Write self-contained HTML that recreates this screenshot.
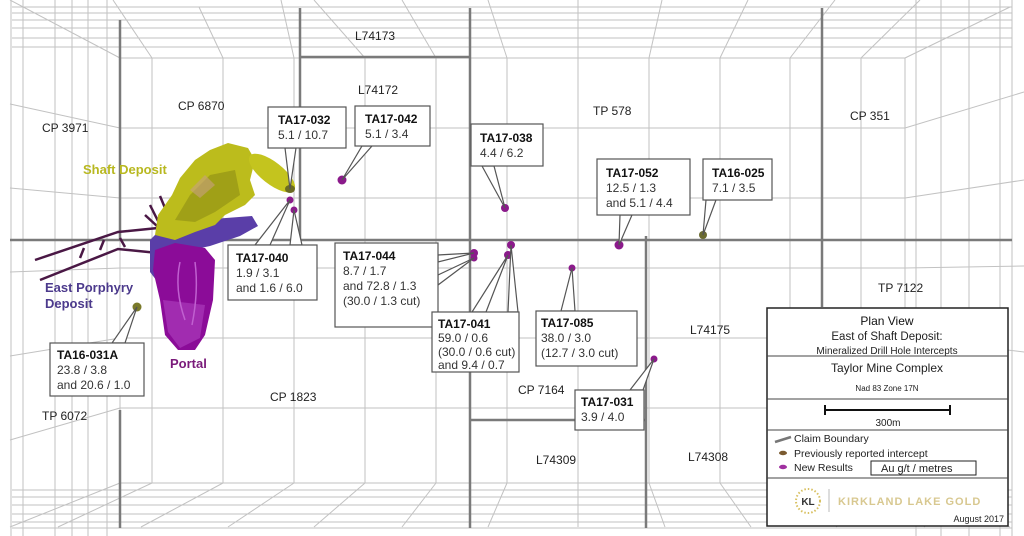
<!DOCTYPE html>
<html><head><meta charset="utf-8"><style>
html,body{margin:0;padding:0;background:#fff;}
svg{display:block;font-family:"Liberation Sans",sans-serif;}
.g{stroke:#c2c2c2;stroke-width:1;fill:none}
.c{stroke:#7a7a7a;stroke-width:2.5;fill:none}
.lb{font-size:12px;fill:#222}
.bx{fill:#fff;stroke:#555;stroke-width:1.2}
.t{font-size:12px;font-weight:bold;fill:#111}
.v{font-size:12px;fill:#333}
</style></head><body>
<svg width="1024" height="536" viewBox="0 0 1024 536" xmlns="http://www.w3.org/2000/svg">
<rect width="1024" height="536" fill="#fff"/>
<g class="g">
<rect x="120" y="58" width="785" height="425"/>
<path d="M152 58V483M223 58V483M294 58V483M365 58V483M436 58V483M507 58V483M578 58V483M649 58V483M720 58V483M790 58V483M861 58V483"/>
<path d="M120 128H905M120 198H905M120 268H905M120 338H905M120 408H905"/>
<path d="M152 58L113 0M223 58L199 7M294 58L281 0M365 58L314 0M436 58L402 0M507 58L488 0M578 58L578 0M649 58L662 0M720 58L748 0M790 58L835 0M861 58L920 0M120 58L10 0M905 58L1010 7"/>
<path d="M12 47H1012M12 38H1012M12 28H1012M12 20H1012M12 13H1012M12 7H1012"/>
<path d="M152 483L58 527M223 483L141 527M294 483L228 527M365 483L314 527M436 483L402 527M507 483L488 527M578 483L578 527M649 483L665 527M720 483L751 527M790 483L837 527M861 483L925 527M120 483L10 527M905 483L1010 527"/>
<path d="M12 490H1012M12 497H1012M12 505H1012M12 514H1012M12 522H1012M12 528H1012"/>
<path d="M11 0V536M23 0V536M55 0V536M72 0V536M88 0V536M107 0V536"/>
<path d="M120 128L10 104M120 198L10 188M120 338L10 356M120 408L10 440M120 268L10 272"/>
<path d="M916 0V536M941 0V536M969 0V536M1000 0V536M1012 0V536"/>
<path d="M905 128L1024 92M905 198L1024 180M905 268L1024 266M905 338L1024 352"/>
</g>
<g class="c">
<path d="M120 20V240M120 410V528"/>
<path d="M10 240H1012"/>
<path d="M300 8V240M300 57H470M470 8V528M470 420H646M646 236V528"/>
<path d="M822 8V307"/>
</g>
<g stroke="#4a1845" stroke-width="2.5" fill="none">
<path d="M35 260L118 232L158 228"/>
<path d="M40 280L118 249L158 253"/>
<path d="M145 215L170 238M150 205L160 225M160 196L175 232M80 258L84 248M100 250L104 240M125 247L120 238"/>
</g>
<polygon points="150,240 160,230 200,220 252,216 258,226 240,236 210,246 168,255 160,285 150,272" fill="#5a3ea8"/>
<polygon points="155,250 175,243 205,248 215,260 213,300 205,335 195,350 178,350 165,335 160,300 153,270" fill="#8b0c98"/>
<polygon points="163,300 205,305 200,338 180,348 168,332" fill="#a12cb0"/>
<path d="M180 262C176 280 178 300 185 320M195 262C198 285 196 305 192 325" stroke="#c060d0" stroke-width="1.5" fill="none"/>
<polygon points="155,235 158,215 172,195 180,178 195,160 210,150 228,143 248,148 255,160 250,180 255,195 245,205 225,215 215,225 195,232 175,240" fill="#bcbc1c"/>
<polygon points="175,220 190,195 210,175 235,170 240,195 215,212 195,222" fill="#8e8e14" opacity="0.6"/>
<polygon points="190,190 205,175 215,185 200,198" fill="#c8a080" opacity="0.6"/>
<ellipse cx="272" cy="173" rx="28" ry="11" transform="rotate(38 272 173)" fill="#c4c41e"/>
<ellipse cx="290" cy="189" rx="5" ry="4" fill="#6b6b22"/>
<g fill="#8b1a8b">
<circle cx="290" cy="200" r="3.5"/><circle cx="294" cy="210" r="3.5"/>
<circle cx="342" cy="180" r="4.5"/><circle cx="505" cy="208" r="4"/>
<circle cx="619" cy="245" r="4.5"/><circle cx="474" cy="253" r="4"/><circle cx="474" cy="258" r="3.5"/>
<circle cx="511" cy="245" r="4"/><circle cx="508" cy="255" r="4"/><circle cx="572" cy="268" r="3.5"/>
<circle cx="654" cy="359" r="3.5"/>
</g>
<circle cx="703" cy="235" r="4" fill="#6b6b30"/>
<circle cx="137" cy="307" r="4.5" fill="#7a7a2a"/>
<g class="lb">
<text x="355" y="40">L74173</text><text x="358" y="94">L74172</text>
<text x="178" y="110">CP 6870</text><text x="42" y="132">CP 3971</text>
<text x="593" y="115">TP 578</text><text x="850" y="120">CP 351</text>
<text x="878" y="292">TP 7122</text><text x="690" y="334">L74175</text>
<text x="518" y="394">CP 7164</text><text x="270" y="401">CP 1823</text>
<text x="42" y="420">TP 6072</text><text x="536" y="464">L74309</text>
<text x="688" y="461">L74308</text>
</g>
<text x="83" y="174" font-size="13" font-weight="bold" fill="#b8b820">Shaft Deposit</text>
<text x="45" y="292" font-size="13" font-weight="bold" fill="#4c3a8c">East Porphyry</text>
<text x="45" y="308" font-size="13" font-weight="bold" fill="#4c3a8c">Deposit</text>
<text x="170" y="368" font-size="13" font-weight="bold" fill="#7a1a7a">Portal</text>
<g>
<polygon points="285,148 296,148 290,189" class="bx"/>
<rect x="268" y="107" width="78" height="41" class="bx"/>
<text x="278" y="124" class="t">TA17-032</text><text x="278" y="139" class="v">5.1 / 10.7</text>

<polygon points="362,146 372,146 342,180" class="bx"/>
<rect x="355" y="106" width="75" height="40" class="bx"/>
<text x="365" y="123" class="t">TA17-042</text><text x="365" y="138" class="v">5.1 / 3.4</text>

<polygon points="482,166 494,166 505,208" class="bx"/>
<rect x="471" y="124" width="72" height="42" class="bx"/>
<text x="480" y="142" class="t">TA17-038</text><text x="480" y="157" class="v">4.4 / 6.2</text>

<polygon points="620,215 632,215 619,245" class="bx"/>
<rect x="597" y="159" width="93" height="56" class="bx"/>
<text x="606" y="177" class="t">TA17-052</text><text x="606" y="192" class="v">12.5 / 1.3</text><text x="606" y="207" class="v">and 5.1 / 4.4</text>

<polygon points="706,200 716,200 703,235" class="bx"/>
<rect x="703" y="159" width="69" height="41" class="bx"/>
<text x="712" y="177" class="t">TA16-025</text><text x="712" y="192" class="v">7.1 / 3.5</text>

<polygon points="255,245 270,245 290,200" class="bx"/>
<polygon points="290,245 302,245 294,210" class="bx"/>
<rect x="228" y="245" width="89" height="55" class="bx"/>
<text x="236" y="262" class="t">TA17-040</text><text x="236" y="277" class="v">1.9 / 3.1</text><text x="236" y="292" class="v">and 1.6 / 6.0</text>

<polygon points="438,255 438,262 474,253" class="bx"/>
<polygon points="438,275 438,285 474,258" class="bx"/>
<rect x="335" y="243" width="103" height="84" class="bx"/>
<text x="343" y="260" class="t">TA17-044</text><text x="343" y="275" class="v">8.7 / 1.7</text><text x="343" y="290" class="v">and 72.8 / 1.3</text><text x="343" y="305" class="v">(30.0 / 1.3 cut)</text>

<polygon points="472,312 486,312 508,255" class="bx"/>
<polygon points="508,312 518,312 511,245" class="bx"/>
<rect x="432" y="312" width="87" height="60" class="bx"/>
<text x="438" y="328" class="t">TA17-041</text><text x="438" y="342" class="v">59.0 / 0.6</text><text x="438" y="356" class="v">(30.0 / 0.6 cut)</text><text x="438" y="369" class="v">and 9.4 / 0.7</text>

<polygon points="561,311 575,311 572,268" class="bx"/>
<rect x="536" y="311" width="101" height="55" class="bx"/>
<text x="541" y="327" class="t">TA17-085</text><text x="541" y="342" class="v">38.0 / 3.0</text><text x="541" y="357" class="v">(12.7 / 3.0 cut)</text>

<polygon points="630,390 643,390 654,359" class="bx"/>
<rect x="575" y="390" width="69" height="40" class="bx"/>
<text x="581" y="406" class="t">TA17-031</text><text x="581" y="421" class="v">3.9 / 4.0</text>

<polygon points="112,343 125,343 137,307" class="bx"/>
<rect x="50" y="343" width="94" height="53" class="bx"/>
<text x="57" y="359" class="t">TA16-031A</text><text x="57" y="374" class="v">23.8 / 3.8</text><text x="57" y="389" class="v">and 20.6 / 1.0</text>
</g>
<g>
<rect x="767" y="308" width="241" height="218" fill="#fff" stroke="#222" stroke-width="1.5"/>
<path d="M767 356H1008M767 399H1008M767 430H1008M767 478H1008" stroke="#444" stroke-width="1"/>
<text x="887" y="325" font-size="12" text-anchor="middle" fill="#111">Plan View</text>
<text x="887" y="340" font-size="11.5" text-anchor="middle" fill="#222">East of Shaft Deposit:</text>
<text x="887" y="354" font-size="10" text-anchor="middle" fill="#222">Mineralized Drill Hole Intercepts</text>
<text x="887" y="372" font-size="12" text-anchor="middle" fill="#222">Taylor Mine Complex</text>
<text x="887" y="391" font-size="8" text-anchor="middle" fill="#222">Nad 83 Zone 17N</text>
<path d="M825 410H950M825 405V415M950 405V415" stroke="#111" stroke-width="2"/>
<text x="888" y="426" font-size="10" text-anchor="middle" fill="#222">300m</text>
<path d="M775 442L791 437" stroke="#777" stroke-width="2.5"/>
<text x="794" y="442" font-size="10.5" fill="#222">Claim Boundary</text>
<ellipse cx="783" cy="453" rx="4" ry="2.2" fill="#7a5a30"/>
<text x="794" y="457" font-size="10.5" fill="#222">Previously reported intercept</text>
<ellipse cx="783" cy="467" rx="4" ry="2.2" fill="#a030a0"/>
<text x="794" y="471" font-size="10.5" fill="#222">New Results</text>
<rect x="871" y="461" width="105" height="14" fill="#fff" stroke="#222" stroke-width="1"/>
<text x="881" y="472" font-size="11" fill="#222">Au g/t  / metres</text>
<circle cx="808" cy="501" r="12" fill="none" stroke="#d8c060" stroke-width="2" stroke-dasharray="1.5 2"/>
<text x="808" y="505" font-size="10" font-weight="bold" text-anchor="middle" fill="#333">KL</text>
<path d="M829 489V512" stroke="#bbb"/>
<text x="838" y="505" font-size="11" font-weight="bold" fill="#d8c890" letter-spacing="1">KIRKLAND LAKE GOLD</text>
<text x="1004" y="522" font-size="9" text-anchor="end" fill="#222">August 2017</text>
</g>
</svg>
</body></html>
